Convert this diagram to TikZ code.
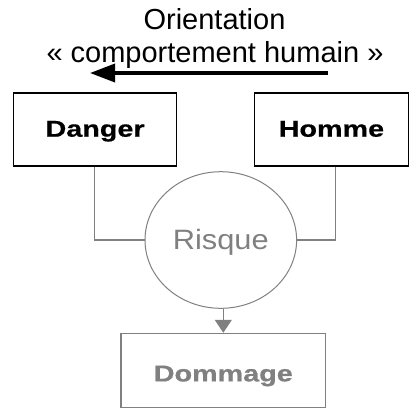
\documentclass[tikz,border=0pt]{standalone}
\usepackage{fontspec}
\setmainfont{Liberation Sans}
\newfontfamily\wideb[FakeStretch=1.25,FakeBold=0.6]{Liberation Sans}
\newfontfamily\widereg[FakeStretch=1.1]{Liberation Sans}
\usetikzlibrary{arrows.meta,shapes.geometric}
\definecolor{gcol}{RGB}{128,128,128}
\begin{document}
\begin{tikzpicture}[x=1pt,y=-1pt,
  titletext/.style={font=\fontsize{29}{29}\selectfont, anchor=base, inner sep=0pt},
  blackbox/.style={draw=black, line width=1.6pt, rectangle, inner sep=0pt,
    font=\wideb\bfseries\fontsize{23}{23}\selectfont, text height=16.5pt, text depth=2.5pt},
  graybox/.style={draw=gcol, line width=1.4pt, rectangle, inner sep=0pt, text=gcol,
    font=\wideb\bfseries\fontsize{23}{23}\selectfont},
  riskshape/.style={draw=gcol, line width=1pt, ellipse, inner sep=0pt, text=gcol,
    font=\widereg\fontsize{28}{28}\selectfont},
  link/.style={draw=gcol, line width=1.2pt},
]
\useasboundingbox (0,0) rectangle (410,408);
\node[titletext] (t1) at (214.5,29.5) {Orientation};
\node[titletext] (t2) at (215,62) {« comportement humain »};
\coordinate (arrS) at (328,73);
\coordinate (arrE) at (90,73);
\draw[line width=3.5pt, -{Triangle[length=25pt,width=18pt]}] (arrS) -- (arrE);

\node[blackbox, minimum width=163pt, minimum height=73pt] (danger) at (95.1,129.7) {Danger};
\node[blackbox, minimum width=154pt, minimum height=73pt] (homme) at (331.4,129.7) {Homme};
\node[riskshape, minimum width=151.6pt, minimum height=136.6pt, text height=20pt, text depth=1pt] (risk) at (220.8,240) {Risque};
\node[graybox, minimum width=204.7pt, minimum height=74.2pt, text height=22pt, text depth=0.4pt] (dommage) at (223.3,370.6) {Dommage};

\draw[link] ([xshift=-0.8pt]danger.south) |- (risk.west);
\draw[link] ([xshift=4.3pt]homme.south) |- (risk.east);
\draw[link, -{Triangle[length=13pt,width=17pt]}] (risk.south -| dommage.north) -- (dommage.north);
\end{tikzpicture}
\end{document}
